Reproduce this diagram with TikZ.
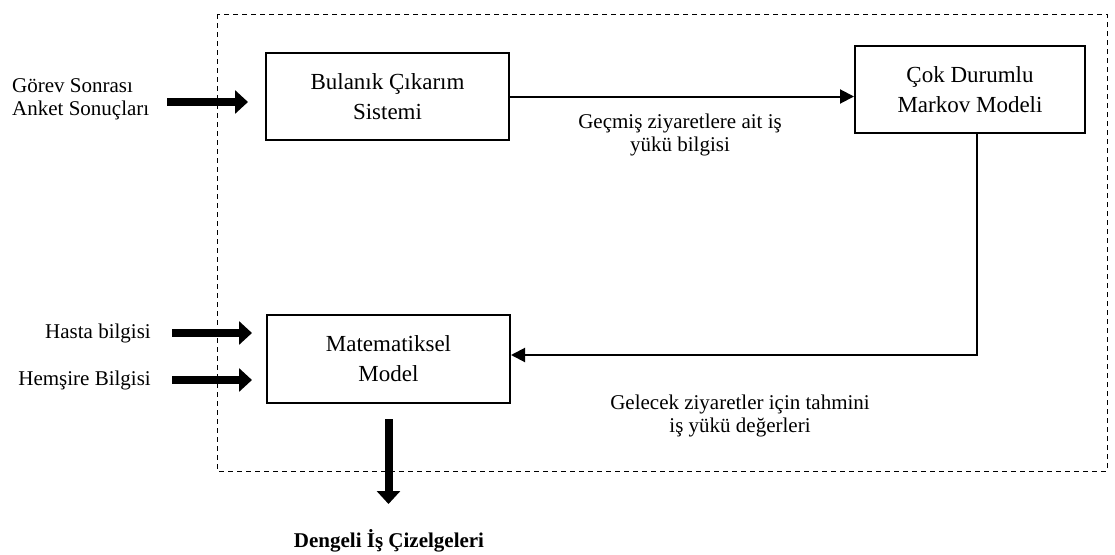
\documentclass[tikz,border=0pt]{standalone}
\usepackage{fontspec}
\setmainfont{Liberation Serif}
\usetikzlibrary{arrows.meta}
\begin{document}
\begin{tikzpicture}[x=1pt,y=-1pt,
  procbox/.style={draw,line width=2pt,inner sep=0pt,align=center,
    font=\fontsize{23}{30}\selectfont},
  lbl/.style={inner sep=0pt,font=\fontsize{21}{23}\selectfont},
  conn/.style={line width=2pt,-{Triangle[length=14pt,width=14pt]}},
  bigarrow/.style={line width=8pt,-{Triangle[length=13pt,width=23pt]}},
  frame/.style={line width=0.9pt,dash pattern=on 5pt off 4pt}]
\useasboundingbox (0,0) rectangle (1115,554);

% dashed system boundary
\draw[frame] (217,14) rectangle (1107,471);

% process boxes
\node[procbox,minimum width=243pt,minimum height=87pt] (fuzzy) at (387.5,96.5)
  {Bulanık Çıkarım\\Sistemi};
\node[procbox,minimum width=230pt,minimum height=87pt] (markov) at (970,89.5)
  {Çok Durumlu\\Markov Modeli};
\node[procbox,minimum width=243pt,minimum height=88pt] (math) at (388.5,359)
  {Matematiksel\\Model};

% flow between the boxes
\draw[conn] (fuzzy.east) -- (fuzzy.east -| markov.west);
\draw[conn] ([xshift=7pt]markov.south) |- ([yshift=4pt]math.east);

\node[lbl,align=center] (pastlbl) at (680,135)
  {Geçmiş ziyaretlere ait iş\\yükü bilgisi};
\node[lbl,align=center] (futlbl) at (740,416)
  {Gelecek ziyaretler için tahmini\\iş yükü değerleri};

% inputs
\node[lbl,align=left,anchor=west] (survey) at (12,99)
  {Görev Sonrası\\Anket Sonuçları};
\node[lbl,anchor=base east] (patient) at (151,338) {Hasta bilgisi};
\node[lbl,anchor=base east] (nurse) at (151,385) {Hemşire Bilgisi};

\coordinate (s0) at (167,102);  \coordinate (s1) at (248,102);
\coordinate (p0) at (172,333);  \coordinate (p1) at (252,333);
\coordinate (n0) at (172,380);  \coordinate (n1) at (252,380);
\draw[bigarrow] (s0) -- (s1);
\draw[bigarrow] (p0) -- (p1);
\draw[bigarrow] (n0) -- (n1);

% output
\node[lbl,anchor=base,font=\fontsize{21}{23}\selectfont\bfseries] (sched) at (389,547)
  {Dengeli İş Çizelgeleri};
\draw[bigarrow] ([yshift=-15pt]math.south) -- ([yshift=-100pt]math.south);
\end{tikzpicture}
\end{document}
